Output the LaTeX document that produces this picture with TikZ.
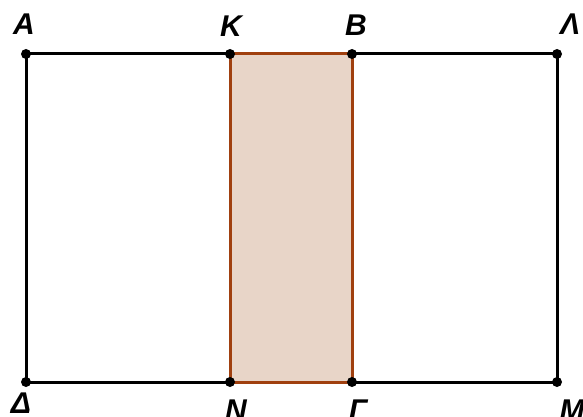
\documentclass[tikz,border=0pt]{standalone}
\usepackage{fontspec}
\setmainfont{Liberation Sans}
\definecolor{brownline}{HTML}{A0400F}
\definecolor{brownfill}{HTML}{E8D5C8}
\begin{document}
\begin{tikzpicture}[x=1pt,y=-1pt,
  lbl/.style={font=\fontsize{30}{31}\selectfont\bfseries\itshape, inner sep=0pt, anchor=center},
  pt/.style={circle, fill=black, inner sep=0pt, minimum size=10pt},
  edge/.style={line width=3pt, black},
  bedge/.style={line width=3pt, brownline}]
\useasboundingbox (0,0) rectangle (583,417);
\coordinate (A) at (26,54);
\coordinate (K) at (230,54);
\coordinate (B) at (352,54);
\coordinate (L) at (557,54);
\coordinate (D) at (26,382);
\coordinate (N) at (230,382);
\coordinate (G) at (352,382);
\coordinate (M) at (557,382);
\fill[brownfill] (K) rectangle (G);
\draw[edge] (A) -- (K) (B) -- (L) -- (M) -- (G) (N) -- (D) -- (A);
\draw[bedge] (K) -- (B) -- (G) -- (N) -- cycle;
\foreach \p in {A,K,B,L,D,N,G,M} \node[pt] at (\p) {};
\node[lbl] (lA) at (24,24) {Α};
\node[lbl] (lK) at (231,26) {Κ};
\node[lbl] (lB) at (356,25) {Β};
\node[lbl] (lL) at (570,24) {Λ};
\node[lbl] (lD) at (21,403) {Δ};
\node[lbl] (lN) at (236,410) {Ν};
\node[lbl] (lG) at (358,410) {Γ};
\node[lbl] (lM) at (572,410) {Μ};
\end{tikzpicture}
\end{document}
